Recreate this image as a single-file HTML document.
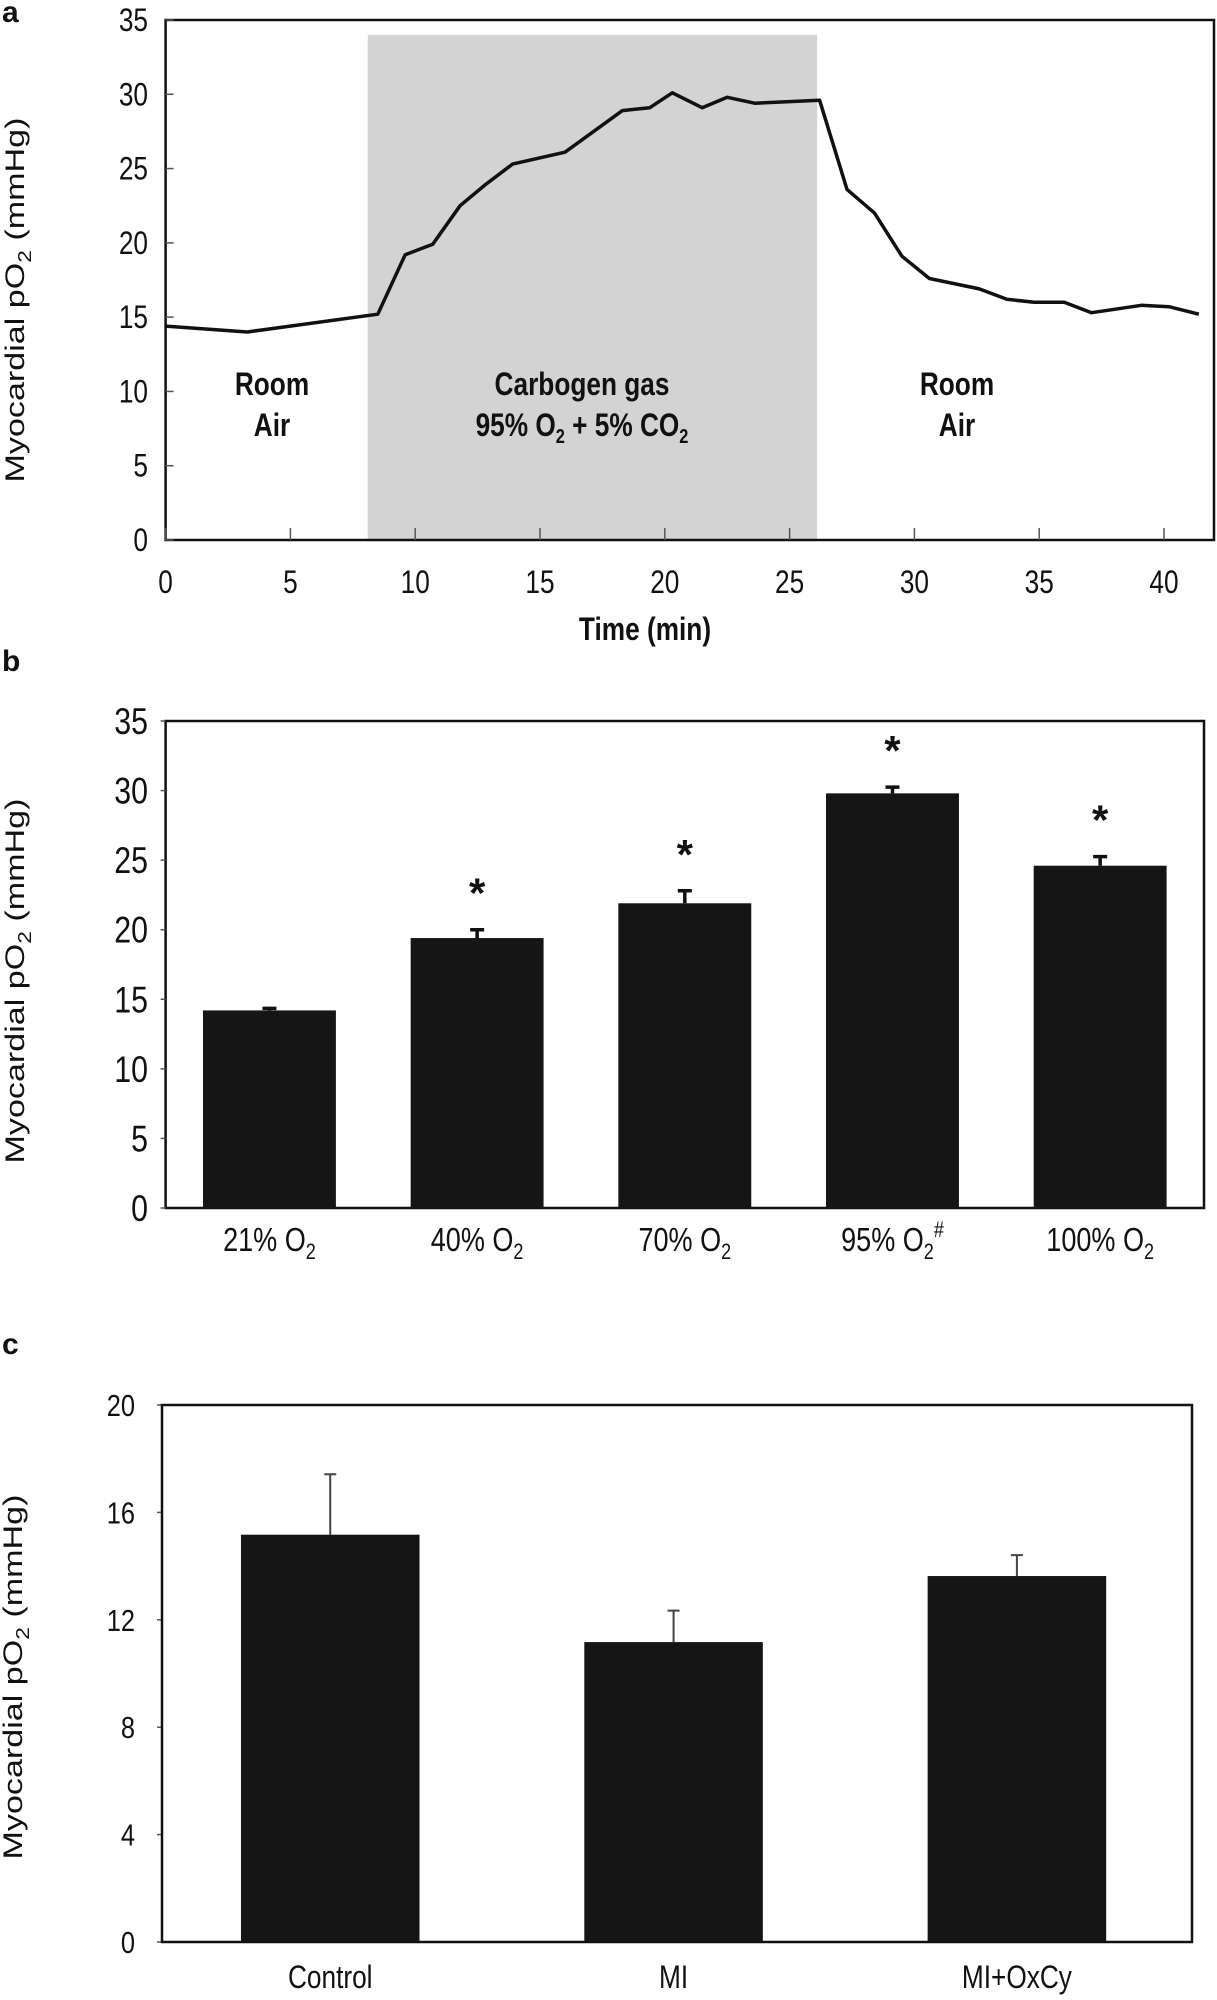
<!DOCTYPE html>
<html><head><meta charset="utf-8">
<style>
html,body{margin:0;padding:0;background:#fff;}
svg{display:block;}
text{font-family:"Liberation Sans Narrow","Liberation Sans",sans-serif;fill:#111;}
.yt{font-family:"Liberation Sans",sans-serif;}
</style></head>
<body>
<svg id="fig" width="1217" height="2000" viewBox="0 0 1217 2000"></svg>
<script>
// ---- Panel a data ----
const aTimes = [0,3.27,8.5,9.6,10.7,11.8,12.8,13.9,16.0,18.3,19.4,20.3,21.5,22.5,23.6,26.2,27.3,28.4,29.5,30.6,32.6,33.7,34.8,36.0,37.1,39.1,40.2,41.4];
const aValues = [14.4,14.0,15.2,19.2,19.9,22.5,23.9,25.3,26.1,28.9,29.1,30.1,29.1,29.8,29.4,29.6,23.6,22.0,19.1,17.6,16.9,16.2,16.0,16.0,15.3,15.8,15.7,15.2];
const aXTicks = [0,5,10,15,20,25,30,35,40];
const aYTicks = [0,5,10,15,20,25,30,35];
const aShade = [8.1, 26.1, 34];
// ---- Panel b data ----
const bCats = ["21% O","40% O","70% O","95% O","100% O"];
const bValues = [14.2,19.4,21.9,29.8,24.6];
const bErrors = [0.15,0.6,0.9,0.45,0.65];
const bStars = [false,true,true,true,true];
const bYTicks = [0,5,10,15,20,25,30,35];
// ---- Panel c data ----
const cCats = ["Control","MI","MI+OxCy"];
const cValues = [15.17,11.17,13.63];
const cErrors = [2.25,1.17,0.78];
const cYTicks = [0,4,8,12,16,20];

const NS="http://www.w3.org/2000/svg";
const svg=document.getElementById('fig');
function el(tag,attrs,parent,txt){const e=document.createElementNS(NS,tag);for(const k in attrs)e.setAttribute(k,attrs[k]);if(txt!==undefined)e.textContent=txt;(parent||svg).appendChild(e);return e;}
// narrow text helper: horizontally compress around anchor x
function nt(x,y,size,anchor,parent,txt,extra){
  const t=el('text',Object.assign({x:0,y:0,transform:`translate(${x},${y}) scale(0.82,1)`,'text-anchor':anchor,'font-size':size},extra||{}),parent,txt);
  return t;
}

function yTitle(cx,cy){
  const t=el('text',{x:0,y:0,transform:`translate(${cx},${cy}) rotate(-90)`,'text-anchor':'middle','font-size':27,class:'yt',textLength:365,lengthAdjust:'spacingAndGlyphs'});
  
  
  t.innerHTML='Myocardial pO<tspan font-size="18" dy="7">2</tspan><tspan dy="-7"> (mmHg)</tspan>';
}

// ================= Panel a =================
(function(){
  const L=165.6,R=1215,T=20,B=540,xmax=40;
  const X0=165.6,X40=1164;
  const x=v=>X0+(X40-X0)*v/xmax;
  const y=v=>B-(B-T)*v/35;
  const g=el('g',{});
  
  
  const lab=el('text',{x:2,y:22,'font-size':30,'font-weight':'bold',class:'yt'},g,'a');
  
  
  const sh=el('rect',{x:x(aShade[0]),y:y(aShade[2]),width:x(aShade[1])-x(aShade[0]),height:B-y(aShade[2]),fill:'#d3d3d3'},g);
  
  
  const fr=el('rect',{x:L,y:T,width:R-L-1,height:B-T,fill:'none',stroke:'#111','stroke-width':2.5},g);
  
  
  aXTicks.forEach(v=>{
    el('line',{x1:x(v),x2:x(v),y1:B,y2:B-12,stroke:'#555','stroke-width':1.5},g);
    const t=nt(x(v),593,32,'middle',g,v);
    
    
  });
  aYTicks.forEach(v=>{
    el('line',{x1:L,x2:L+8,y1:y(v),y2:y(v),stroke:'#555','stroke-width':1.5},g);
    const t=nt(148,y(v)+11,32,'end',g,v);
    
    
  });
  const pts=aTimes.map((t,i)=>x(t).toFixed(1)+','+y(aValues[i]).toFixed(1)).join(' ');
  const pl=el('polyline',{points:pts,fill:'none',stroke:'#111','stroke-width':3.5,'stroke-linejoin':'round'},g);
  
  
  const mk=(cx,l1,l2,name)=>{
    const t1=nt(cx,395,32,'middle',g,l1,{'font-weight':'bold'});
    
    
    const t2=nt(cx,436,32,'middle',g,undefined,{'font-weight':'bold'});
    
    
    t2.innerHTML=l2;
  };
  mk(272,'Room','Air','room-air-label-left');
  mk(582,'Carbogen gas','95% O<tspan font-size="20" dy="7">2</tspan><tspan dy="-7"> + 5% CO</tspan><tspan font-size="20" dy="7">2</tspan>','carbogen-label');
  mk(957,'Room','Air','room-air-label-right');
  const xt=nt(645,640,32,'middle',g,'Time (min)',{'font-weight':'bold'});
  
  
  yTitle(24,300);
})();

// ================= Panel b =================
(function(){
  const L=165.6,R=1204,T=721,B=1208;
  const y=v=>B-(B-T)*v/35;
  const bw=(R-L)/bCats.length;
  const g=el('g',{});
  
  
  const lab=el('text',{x:2,y:671,'font-size':30,'font-weight':'bold',class:'yt'},g,'b');
  
  
  const fr=el('rect',{x:L,y:T,width:R-L,height:B-T,fill:'none',stroke:'#111','stroke-width':2.5},g);
  
  
  bYTicks.forEach(v=>{
    el('line',{x1:L-5,x2:L,y1:y(v),y2:y(v),stroke:'#555','stroke-width':1.5},g);
    const t=nt(148,y(v)+13,37,'end',g,v);
    
    
  });
  bCats.forEach((c,i)=>{
    const cx=L+bw*(i+0.5), w=bw*0.64;
    const bar=el('rect',{x:cx-w/2,y:y(bValues[i]),width:w,height:B-y(bValues[i]),fill:'#151515'},g);
    
    
    const top=y(bValues[i]+bErrors[i]);
    const eb=el('path',{d:`M${cx},${y(bValues[i])}V${top}M${cx-7},${top}H${cx+7}`,stroke:'#111','stroke-width':3.5,fill:'none'},g);
    
    
    if(bStars[i]){
      const s=el('text',{x:cx,y:top-22,'text-anchor':'middle','font-size':42,'font-weight':'bold',class:'yt'},g,'*');
      
      
    }
    const t=nt(cx,1251,33,'middle',g);
    
    
    t.innerHTML=c+'<tspan font-size="22" dy="8">2</tspan>'+(i===3?'<tspan font-size="22" dy="-22">#</tspan>':'');
  });
  yTitle(24,981);
})();

// ================= Panel c =================
(function(){
  const L=162,R=1192,T=1405,B=1942;
  const y=v=>B-(B-T)*v/20;
  const bw=(R-L)/cCats.length;
  const g=el('g',{});
  
  
  const lab=el('text',{x:2,y:1354,'font-size':30,'font-weight':'bold',class:'yt'},g,'c');
  
  
  cYTicks.forEach(v=>{
    el('line',{x1:L-5,x2:L,y1:y(v),y2:y(v),stroke:'#555','stroke-width':1.5},g);
    const t=nt(135,y(v)+11,31,'end',g,v);
    
    
  });
  cCats.forEach((c,i)=>{
    const cx=L+bw*(i+0.49), w=bw*0.52;
    const top=y(cValues[i]+cErrors[i]);
    const eb=el('path',{d:`M${cx},${y(cValues[i])}V${top}M${cx-6},${top}H${cx+6}`,stroke:'#444','stroke-width':2,fill:'none'},g);
    
    
    const bar=el('rect',{x:cx-w/2,y:y(cValues[i]),width:w,height:B-y(cValues[i]),fill:'#151515'},g);
    
    
    const t=nt(cx,1988,32,'middle',g,c);
    
    
  });
  const fr=el('rect',{x:L,y:T,width:R-L,height:B-T,fill:'none',stroke:'#111','stroke-width':2.5},g);
  
  
  yTitle(22,1677);
})();
</script>
</body></html>
